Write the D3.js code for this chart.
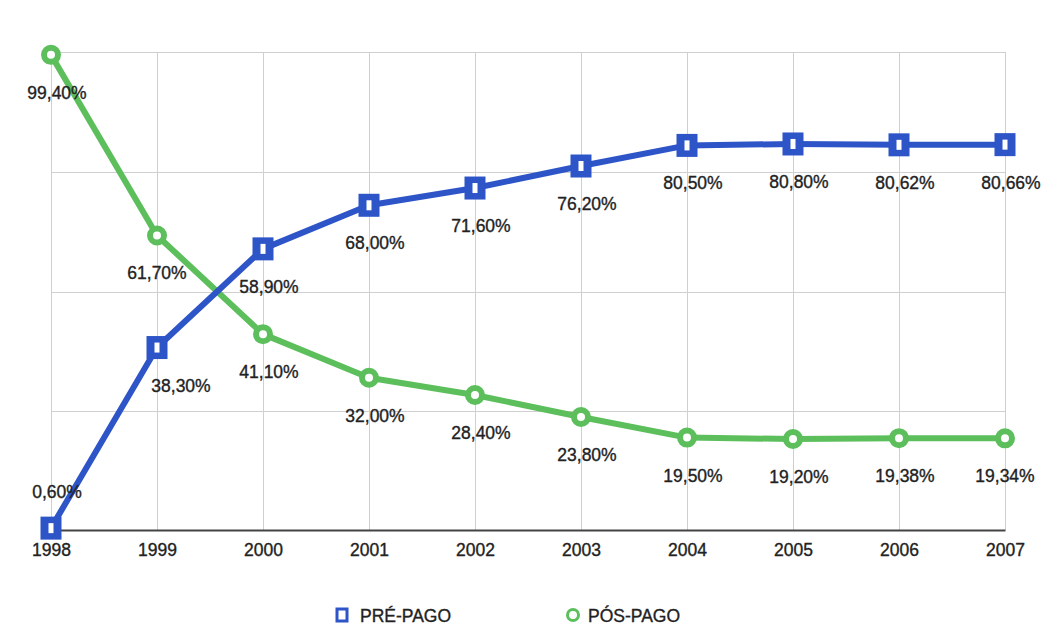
<!DOCTYPE html>
<html>
<head>
<meta charset="utf-8">
<script src="https://cdn.jsdelivr.net/npm/d3@7"></script>
<style>
  html, body { margin: 0; padding: 0; background: #fff; }
  svg { display: block; font-family: "Liberation Sans", Arial, sans-serif; }
  text { paint-order: stroke; }
</style>
</head>
<body>
<svg id="chart" width="1045" height="632"></svg>
<script>
// Market share of prepaid vs postpaid mobile lines, 1998–2007
const years = ["1998", "1999", "2000", "2001", "2002", "2003", "2004", "2005", "2006", "2007"];
const prePago = [0.60, 38.30, 58.90, 68.00, 71.60, 76.20, 80.50, 80.80, 80.62, 80.66];
const posPago = [99.40, 61.70, 41.10, 32.00, 28.40, 23.80, 19.50, 19.20, 19.38, 19.34];
const seriesNames = ["PRÉ-PAGO", "PÓS-PAGO"];
const yTicks = [0, 25, 50, 75, 100];

const BLUE = "#2d55c8";
const GREEN = "#5cbf5c";
const TEXT = "#222";

const svg = d3.select("#chart");
const plot = { left: 51, right: 1005, top: 52, bottom: 530 };

const x = d3.scalePoint().domain(years).range([plot.left, plot.right]);
const y = d3.scaleLinear().domain([0, 100]).range([plot.bottom + 1, plot.top]);

const fmt = v => d3.format(".2f")(v).replace(".", ",") + "%";

// gridlines
const grid = svg.append("g");
grid.selectAll("line.h").data(yTicks.filter(t => t > 0)).join("line")
  .attr("x1", plot.left).attr("x2", plot.right)
  .attr("y1", d => Math.round(y(d)) + 0.5).attr("y2", d => Math.round(y(d)) + 0.5)
  .attr("stroke", "#cfcfcf").attr("stroke-width", 1);
grid.selectAll("line.v").data(years).join("line")
  .attr("x1", d => Math.round(x(d)) + 0.5).attr("x2", d => Math.round(x(d)) + 0.5)
  .attr("y1", plot.top).attr("y2", plot.bottom)
  .attr("stroke", "#cfcfcf").attr("stroke-width", 1);

// x axis
const xAxis = svg.append("g")
  .attr("transform", `translate(0,${plot.bottom})`)
  .call(d3.axisBottom(x).tickSize(0).tickPadding(14));
xAxis.select(".domain").attr("stroke", "#444").attr("stroke-width", 2);
xAxis.selectAll("text")
  .attr("font-size", 17.5).attr("fill", TEXT)
  .attr("stroke", TEXT).attr("stroke-width", 0.35)
  .attr("font-family", "Liberation Sans, Arial, sans-serif");

const line = d3.line().x((d, i) => x(years[i])).y(d => y(d));

// post-paid series (circles)
svg.append("path").datum(posPago)
  .attr("d", line).attr("fill", "none")
  .attr("stroke", GREEN).attr("stroke-width", 6).attr("stroke-linejoin", "round");

// pre-paid series (squares)
svg.append("path").datum(prePago)
  .attr("d", line).attr("fill", "none")
  .attr("stroke", BLUE).attr("stroke-width", 6).attr("stroke-linejoin", "round");

svg.append("g").selectAll("circle").data(posPago).join("circle")
  .attr("cx", (d, i) => x(years[i])).attr("cy", d => y(d))
  .attr("r", 7).attr("fill", "#fff")
  .attr("stroke", GREEN).attr("stroke-width", 6);

const sq = svg.append("g").selectAll("g").data(prePago).join("g")
  .attr("transform", (d, i) => `translate(${x(years[i])},${y(d)})`);
sq.append("rect").attr("x", -10.5).attr("y", -11.5).attr("width", 21).attr("height", 23).attr("fill", BLUE);
sq.append("rect").attr("x", -2.5).attr("y", -5).attr("width", 5).attr("height", 10).attr("fill", "#fff");

// value labels
const nudge = { "pre-1999": 18, "pos-1999": -6, "pos-2007": -6 };
function labels(values, key) {
  svg.append("g").selectAll("text").data(values).join("text")
    .attr("x", (d, i) => x(years[i]) + 6 + (nudge[key + "-" + years[i]] || 0))
    .attr("y", (d, i) => (key === "pre" && i === 0) ? y(d) - 30 : y(d) + 44)
    .attr("text-anchor", "middle")
    .attr("font-size", 17.5).attr("fill", TEXT)
    .attr("stroke", TEXT).attr("stroke-width", 0.35)
    .text(fmt);
}
labels(prePago, "pre");
labels(posPago, "pos");

// legend
const legend = svg.append("g").attr("font-size", 17.5).attr("fill", TEXT);
const lg1 = legend.append("g").attr("transform", "translate(342,615)");
lg1.append("rect").attr("x", -5).attr("y", -6).attr("width", 10).attr("height", 12)
  .attr("fill", "#fff").attr("stroke", BLUE).attr("stroke-width", 3);
lg1.append("text").attr("x", 18).attr("y", 7)
  .attr("stroke", TEXT).attr("stroke-width", 0.35).text(seriesNames[0]);
const lg2 = legend.append("g").attr("transform", "translate(573,615)");
lg2.append("circle").attr("r", 5.5).attr("fill", "#fff")
  .attr("stroke", GREEN).attr("stroke-width", 3);
lg2.append("text").attr("x", 15).attr("y", 7)
  .attr("stroke", TEXT).attr("stroke-width", 0.35).text(seriesNames[1]);
</script>
</body>
</html>
